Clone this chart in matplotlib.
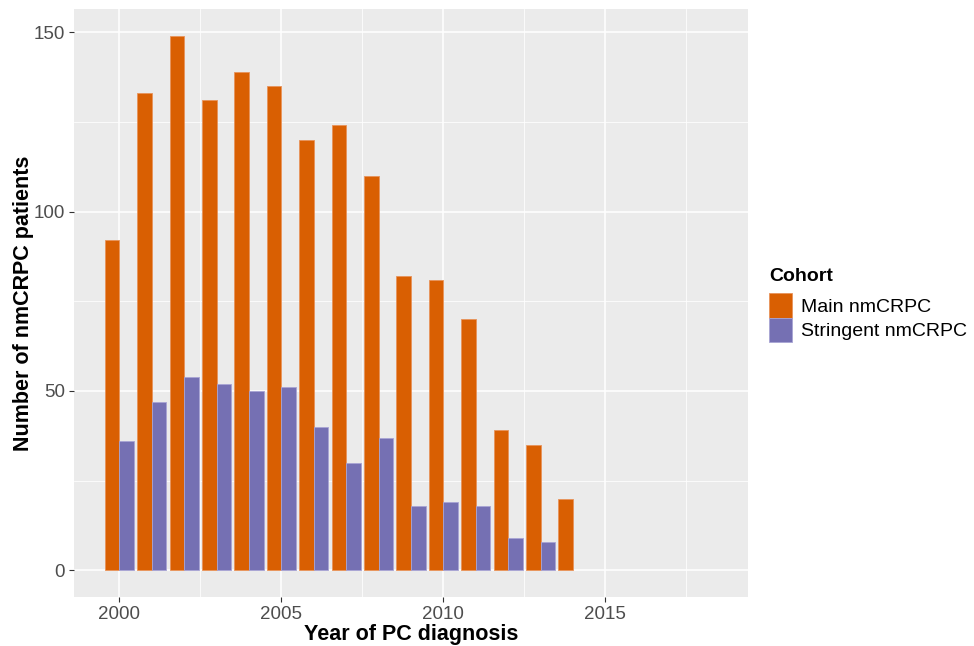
import numpy as np
import matplotlib.pyplot as plt
from matplotlib.patches import Patch

plt.rcParams['font.family'] = ['Liberation Sans', 'DejaVu Sans']

# data
years = list(range(2000, 2019))
main_counts = [92, 133, 149, 131, 139, 135, 120, 124, 110, 82, 81, 70, 39, 35, 20,
               0, 0, 0, 0]
stringent_counts = [36, 47, 54, 52, 50, 51, 40, 30, 37, 18, 19, 18, 9, 8, 0,
                    0, 0, 0, 0]
cohorts = ["Main nmCRPC", "Stringent nmCRPC"]
colors = ["#D95F02", "#7570B3"]
edge_colors = ["#E8935A", "#A8A4D4"]

fig = plt.figure(figsize=(9.74, 6.46), dpi=100)
ax = fig.add_axes([74 / 974, 49 / 646, (748 - 74) / 974, (597 - 9) / 646])
ax.set_facecolor("#EBEBEB")

x = np.array(years, dtype=float)
w = 0.45
for i, (counts, off) in enumerate([(main_counts, -w / 2),
                                   (stringent_counts, w / 2)]):
    counts = np.array(counts)
    # zero-height bars leave no visible mark in the reference
    ec = [edge_colors[i] if c > 0 else "none" for c in counts]
    ax.bar(x + off, counts, width=w, color=colors[i],
           edgecolor=ec, linewidth=0.6, zorder=3)

ax.set_xlim(1998.6, 2019.4)
ax.set_ylim(-7.45, 156.45)
ax.set_xticks([2000, 2005, 2010, 2015])
ax.set_yticks([0, 50, 100, 150])
ax.set_xticks([2002.5, 2007.5, 2012.5, 2017.5], minor=True)
ax.set_yticks([25, 75, 125], minor=True)
ax.grid(which="major", color="white", linewidth=1.1, zorder=0)
ax.grid(which="minor", color="white", linewidth=0.55, zorder=0)
ax.set_axisbelow(True)
for s in ax.spines.values():
    s.set_visible(False)
ax.tick_params(which="major", length=3.5, width=0.8, color="#333333",
               labelsize=13.5, labelcolor="#4D4D4D", pad=3)
ax.tick_params(which="minor", length=0)

ax.set_xlabel("Year of PC diagnosis", fontsize=15.5, fontweight="bold",
              labelpad=1)
ax.set_ylabel("Number of nmCRPC patients", fontsize=15.5, fontweight="bold",
              labelpad=0)

handles = [Patch(facecolor=c, edgecolor=e, linewidth=0.6)
           for c, e in zip(colors, edge_colors)]
leg = fig.legend(handles, cohorts, loc="upper left",
                 bbox_to_anchor=(769 / 974, 1 - 268 / 646), frameon=False,
                 title="Cohort", fontsize=14, handlelength=1.2,
                 handleheight=1.55, handletextpad=0.45, labelspacing=0.0,
                 borderaxespad=0, borderpad=0)
leg.get_title().set_fontweight("bold")
leg.get_title().set_fontsize(14)
leg._legend_box.align = "left"
leg._legend_box.sep = 6

fig.savefig("out.png", dpi=100)
